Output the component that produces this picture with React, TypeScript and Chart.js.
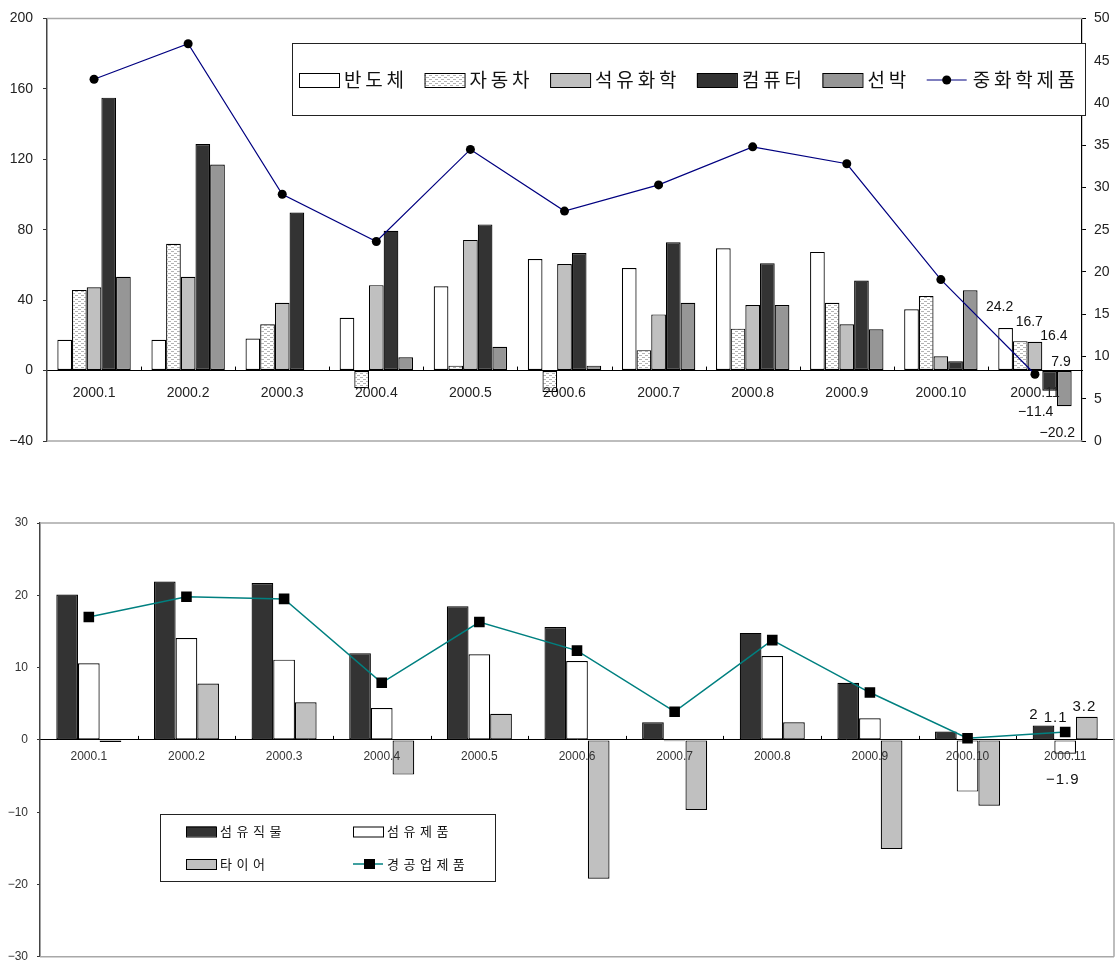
import React, { useEffect, useRef } from 'react';
import { Chart, registerables } from 'chart.js';

Chart.register(...registerables);

// ---------- shared ----------
const categories = ['2000.1', '2000.2', '2000.3', '2000.4', '2000.5', '2000.6', '2000.7', '2000.8', '2000.9', '2000.10', '2000.11'];

// ---------- top chart (중화학) ----------
const topBarNames = ['반도체', '자동차', '석유화학', '컴퓨터', '선박'];
const semiconductor = [17.5, 17.5, 18.2, 30, 47.9, 63.3, 58.2, 69.5, 67.4, 34.8, 24.2];
const automobile = [45.8, 72, 26.3, -10, 2.8, -12.2, 11.6, 23.8, 38.5, 42.4, 16.7];
const petrochemical = [47.3, 53.3, 38.5, 48.5, 74.2, 60.5, 31.9, 37.2, 26.3, 8.1, 16.4];
const computer = [155, 128.6, 89.8, 79.4, 83, 66.7, 72.9, 61, 51.1, 5.3, -11.4];
const ship = [53.3, 117, null, 7.5, 13.5, 2.8, 38.5, 37.2, 23.5, 45.6, -20.2];
const topLineName = '중화학제품';
const heavyChemical = [42.8, 47.0, 29.2, 23.6, 34.5, 27.2, 30.3, 34.8, 32.8, 19.1, 7.9];
const topLeftTicks = [-40, 0, 40, 80, 120, 160, 200];
const topRightTicks = [0, 5, 10, 15, 20, 25, 30, 35, 40, 45, 50];

// ---------- bottom chart (경공업) ----------
const bottomBarNames = ['섬유직물', '섬유제품', '타이어'];
const textileFabric = [20.1, 21.9, 21.7, 12.0, 18.5, 15.6, 2.45, 14.8, 7.9, 1.15, 2];
const textileProducts = [10.6, 14.1, 11.1, 4.4, 11.85, 10.9, -0.2, 11.6, 3.0, -7.15, -1.9];
const tire = [-0.3, 7.8, 5.2, -4.8, 3.6, -19.2, -9.7, 2.45, -15.1, -9.1, 3.2];
const bottomLineName = '경공업제품';
const lightIndustry = [17.0, 19.8, 19.5, 7.9, 16.3, 12.35, 3.9, 13.8, 6.55, 0.23, 1.1];
const bottomTicks = [-30, -20, -10, 0, 10, 20, 30];

const NUM_FONT = '"Liberation Sans", Arial, sans-serif';
const KR_FONT = '"Noto Sans CJK KR", "Noto Sans", sans-serif';

function fmt(v: number): string {
  return String(v).replace('-', '\u2212');
}

function spacedWidth(ctx: CanvasRenderingContext2D, text: string, spacing: number): number {
  let w = 0;
  const chars = Array.from(text);
  chars.forEach((ch) => { w += ctx.measureText(ch).width; });
  return w + spacing * (chars.length - 1);
}

function fillSpaced(ctx: CanvasRenderingContext2D, text: string, x: number, y: number, spacing: number): number {
  let cx = x;
  ctx.textAlign = 'left';
  Array.from(text).forEach((ch) => {
    ctx.fillText(ch, cx, y);
    cx += ctx.measureText(ch).width + spacing;
  });
  return cx - spacing - x;
}

function makeDotPattern(ctx: CanvasRenderingContext2D): CanvasPattern | string {
  const pc = document.createElement('canvas');
  pc.width = 6;
  pc.height = 4;
  const p = pc.getContext('2d');
  if (!p) return '#eee';
  p.fillStyle = '#ffffff';
  p.fillRect(0, 0, 6, 4);
  p.fillStyle = '#b4b4b4';
  p.fillRect(0, 1, 3, 1);
  p.fillRect(3, 3, 3, 1);
  return ctx.createPattern(pc, 'repeat') || '#eee';
}

type LabelSpec = { ds: number; dx: number; dy: number };

function drawFrame(chart: any, color: string, right: boolean) {
  const { ctx, chartArea: a } = chart;
  ctx.save();
  ctx.strokeStyle = color;
  ctx.lineWidth = 1.5;
  ctx.beginPath();
  ctx.moveTo(a.left, a.top);
  ctx.lineTo(a.right, a.top);
  ctx.moveTo(a.left, a.bottom);
  ctx.lineTo(a.right, a.bottom);
  if (right) {
    ctx.moveTo(a.right, a.top);
    ctx.lineTo(a.right, a.bottom);
  }
  ctx.stroke();
  ctx.restore();
}

function drawCategoryTicks(chart: any, yId: string) {
  const { ctx } = chart;
  const x = chart.scales.x;
  const y0 = chart.scales[yId].getPixelForValue(0);
  ctx.save();
  ctx.strokeStyle = '#000';
  ctx.lineWidth = 1;
  ctx.beginPath();
  for (let i = 1; i < categories.length; i++) {
    const px = Math.round((x.getPixelForValue(i - 1) + x.getPixelForValue(i)) / 2) + 0.5;
    ctx.moveTo(px, y0);
    ctx.lineTo(px, y0 - 4);
  }
  ctx.stroke();
  ctx.restore();
}

function drawValueLabels(chart: any, specs: LabelSpec[], size: number, spacing: number) {
  const ctx = chart.ctx as CanvasRenderingContext2D;
  const idx = categories.length - 1;
  ctx.save();
  ctx.font = `${size}px ${NUM_FONT}`;
  ctx.fillStyle = '#111';
  ctx.textBaseline = 'middle';
  specs.forEach((s) => {
    const el = chart.getDatasetMeta(s.ds).data[idx];
    const v = chart.data.datasets[s.ds].data[idx];
    if (!el || v === null || v === undefined) return;
    const t = fmt(v);
    const w = spacedWidth(ctx, t, spacing);
    fillSpaced(ctx, t, el.x + s.dx - w / 2, el.y + s.dy, spacing);
  });
  ctx.restore();
}

const topLabelSpecs: LabelSpec[] = [
  { ds: 0, dx: -6, dy: -21 },
  { ds: 1, dx: 9, dy: -19 },
  { ds: 2, dx: 19, dy: -6 },
  { ds: 3, dx: -14, dy: 22 },
  { ds: 4, dx: -7, dy: 27 },
  { ds: 5, dx: 26, dy: -12 },
];

const bottomLabelSpecs: LabelSpec[] = [
  { ds: 0, dx: -10, dy: -11 },
  { ds: 1, dx: -3, dy: 26 },
  { ds: 2, dx: -3, dy: -10 },
  { ds: 3, dx: -10, dy: -14 },
];

export default function App() {
  const topRef = useRef<HTMLCanvasElement>(null);
  const botRef = useRef<HTMLCanvasElement>(null);

  useEffect(() => {
    const topCanvas = topRef.current;
    const botCanvas = botRef.current;
    if (!topCanvas || !botCanvas) return;
    const tctx = topCanvas.getContext('2d') as CanvasRenderingContext2D;
    const dots = makeDotPattern(tctx);

    const topColors: any[] = ['#ffffff', dots, '#c0c0c0', '#333333', '#969696'];
    const topSeries = [semiconductor, automobile, petrochemical, computer, ship];

    const topDecor = {
      id: 'topDecor',
      beforeDatasetsDraw(chart: any) {
        drawFrame(chart, '#a8a8a8', false);
        drawCategoryTicks(chart, 'y');
      },
      afterDatasetsDraw(chart: any) {
        drawValueLabels(chart, topLabelSpecs, 14, 0);
      },
      afterDraw(chart: any) {
        const ctx = chart.ctx as CanvasRenderingContext2D;
        ctx.save();
        ctx.fillStyle = '#fff';
        ctx.fillRect(292, 43, 793, 72);
        ctx.strokeStyle = '#222';
        ctx.lineWidth = 1;
        ctx.strokeRect(292.5, 43.5, 793, 72);
        const cy = 80;
        let x = 299;
        ctx.font = `19px ${KR_FONT}`;
        ctx.textBaseline = 'middle';
        ctx.textAlign = 'left';
        topBarNames.forEach((name, i) => {
          ctx.fillStyle = topColors[i];
          ctx.fillRect(x, cy - 7, 40, 14);
          ctx.strokeStyle = '#000';
          ctx.strokeRect(x + 0.5, cy - 6.5, 40, 14);
          x += 45;
          ctx.fillStyle = '#111';
          x += fillSpaced(ctx, name, x, cy, 3.8) + 20.5;
        });
        ctx.strokeStyle = '#000080';
        ctx.lineWidth = 1.2;
        ctx.beginPath();
        ctx.moveTo(x, cy);
        ctx.lineTo(x + 40, cy);
        ctx.stroke();
        ctx.fillStyle = '#000';
        ctx.beginPath();
        ctx.arc(x + 20, cy, 4.5, 0, Math.PI * 2);
        ctx.fill();
        x += 46;
        ctx.fillStyle = '#111';
        fillSpaced(ctx, topLineName, x, cy, 3.8);
        ctx.restore();
      },
    };

    const tickFont = (size: number) => ({ family: NUM_FONT, size });

    const topChart = new Chart(topCanvas, {
      type: 'bar',
      data: {
        labels: categories,
        datasets: [
          ...topSeries.map((s, i) => ({
            type: 'bar' as const,
            label: topBarNames[i],
            data: s,
            backgroundColor: topColors[i],
            borderColor: '#000',
            borderWidth: 1.2,
            borderSkipped: false,
            yAxisID: 'y',
            order: 1,
          })),
          {
            type: 'line' as const,
            label: topLineName,
            data: heavyChemical,
            yAxisID: 'y1',
            borderColor: '#000080',
            borderWidth: 1.2,
            pointRadius: 4.5,
            pointBackgroundColor: '#000',
            pointBorderColor: '#000',
            pointBorderWidth: 0,
            tension: 0,
            order: 0,
          },
        ] as any,
      },
      options: {
        responsive: false,
        animation: false,
        layout: { autoPadding: false, padding: { top: 15, bottom: 22, left: 0, right: 0 } },
        plugins: { legend: { display: false }, tooltip: { enabled: false } },
        datasets: { bar: { categoryPercentage: 0.78, barPercentage: 1 } },
        scales: {
          x: {
            position: { y: 0 } as any,
            offset: true,
            grid: { drawOnChartArea: false, drawTicks: false },
            border: { display: true, color: '#000', width: 1 },
            ticks: { z: 1, autoSkip: false, maxRotation: 0, padding: 14, color: '#222', font: tickFont(14) },
          },
          y: {
            position: 'left',
            min: -40,
            max: 200,
            afterFit: (s: any) => { s.width = 47; },
            afterBuildTicks: (s: any) => { s.ticks = topLeftTicks.map((v) => ({ value: v })); },
            grid: { drawOnChartArea: false, drawTicks: true, tickLength: 4, color: '#333' },
            border: { display: true, color: '#444', width: 1.5 },
            ticks: { padding: 10, color: '#222', font: tickFont(14), callback: (v: any) => fmt(Number(v)) },
          },
          y1: {
            position: 'right',
            min: 0,
            max: 50,
            afterFit: (s: any) => { s.width = 33; },
            afterBuildTicks: (s: any) => { s.ticks = topRightTicks.map((v) => ({ value: v })); },
            grid: { drawOnChartArea: false, drawTicks: true, tickLength: 4, color: '#000' },
            border: { display: true, color: '#000', width: 1.2 },
            ticks: { padding: 8, color: '#222', font: tickFont(14), callback: (v: any) => fmt(Number(v)) },
          },
        },
      } as any,
      plugins: [topDecor],
    });

    const bottomColors = ['#333333', '#ffffff', '#c0c0c0'];
    const bottomSeries = [textileFabric, textileProducts, tire];

    const bottomDecor = {
      id: 'bottomDecor',
      beforeDatasetsDraw(chart: any) {
        drawFrame(chart, '#a8a8a8', true);
        drawCategoryTicks(chart, 'y');
      },
      afterDatasetsDraw(chart: any) {
        drawValueLabels(chart, bottomLabelSpecs, 15, 1);
      },
      afterDraw(chart: any) {
        const ctx = chart.ctx as CanvasRenderingContext2D;
        ctx.save();
        ctx.fillStyle = '#fff';
        ctx.fillRect(160, 351, 335, 67);
        ctx.strokeStyle = '#222';
        ctx.lineWidth = 1;
        ctx.strokeRect(160.5, 351.5, 335, 67);
        ctx.font = `13px ${KR_FONT}`;
        ctx.textBaseline = 'middle';
        ctx.textAlign = 'left';
        const rows = [368.5, 401];
        const cols = [186, 353];
        [0, 1, 2].forEach((i) => {
          const cx = cols[i % 2];
          const cy = rows[Math.floor(i / 2)];
          ctx.fillStyle = bottomColors[i];
          ctx.fillRect(cx, cy - 5, 30, 10);
          ctx.strokeStyle = '#000';
          ctx.strokeRect(cx + 0.5, cy - 4.5, 30, 10);
          ctx.fillStyle = '#111';
          fillSpaced(ctx, bottomBarNames[i], cx + 34, cy, 4.5);
        });
        const lx = cols[1];
        const ly = rows[1];
        ctx.strokeStyle = '#008080';
        ctx.lineWidth = 1.5;
        ctx.beginPath();
        ctx.moveTo(lx, ly);
        ctx.lineTo(lx + 30, ly);
        ctx.stroke();
        ctx.fillStyle = '#000';
        ctx.fillRect(lx + 11, ly - 5, 11, 10);
        ctx.fillStyle = '#111';
        fillSpaced(ctx, bottomLineName, lx + 34, ly, 4.5);
        ctx.restore();
      },
    };

    const bottomChart = new Chart(botCanvas, {
      type: 'bar',
      data: {
        labels: categories,
        datasets: [
          ...bottomSeries.map((s, i) => ({
            type: 'bar' as const,
            label: bottomBarNames[i],
            data: s,
            backgroundColor: bottomColors[i],
            borderColor: '#000',
            borderWidth: 1.2,
            borderSkipped: false,
            order: 1,
          })),
          {
            type: 'line' as const,
            label: bottomLineName,
            data: lightIndustry,
            borderColor: '#008080',
            borderWidth: 1.5,
            pointStyle: 'rect',
            pointRadius: 7.5,
            pointBackgroundColor: '#000',
            pointBorderColor: '#000',
            pointBorderWidth: 0,
            tension: 0,
            order: 0,
          },
        ] as any,
      },
      options: {
        responsive: false,
        animation: false,
        layout: { autoPadding: false, padding: { top: 60, bottom: 16, left: 0, right: 1 } },
        plugins: { legend: { display: false }, tooltip: { enabled: false } },
        datasets: { bar: { categoryPercentage: 0.666, barPercentage: 1 } },
        scales: {
          x: {
            position: { y: 0 } as any,
            offset: true,
            grid: { drawOnChartArea: false, drawTicks: false },
            border: { display: true, color: '#000', width: 1 },
            ticks: { z: 1, autoSkip: false, maxRotation: 0, padding: 10, color: '#333', font: tickFont(12) },
          },
          y: {
            position: 'left',
            min: -30,
            max: 30,
            afterFit: (s: any) => { s.width = 40; },
            afterBuildTicks: (s: any) => { s.ticks = bottomTicks.map((v) => ({ value: v })); },
            grid: { drawOnChartArea: false, drawTicks: true, tickLength: 3, color: '#333' },
            border: { display: true, color: '#444', width: 1.5 },
            ticks: { padding: 9, color: '#333', font: tickFont(12), callback: (v: any) => fmt(Number(v)) },
          },
        },
      } as any,
      plugins: [bottomDecor],
    });

    return () => {
      topChart.destroy();
      bottomChart.destroy();
    };
  }, []);

  return (
    <div style={{ position: 'fixed', left: 0, top: 0, width: 1115, height: 963, overflow: 'hidden', background: '#fff' }}>
      <canvas ref={topRef} width={1115} height={463} style={{ position: 'absolute', left: 0, top: 0 }} />
      <canvas ref={botRef} width={1115} height={510} style={{ position: 'absolute', left: 0, top: 463 }} />
    </div>
  );
}
